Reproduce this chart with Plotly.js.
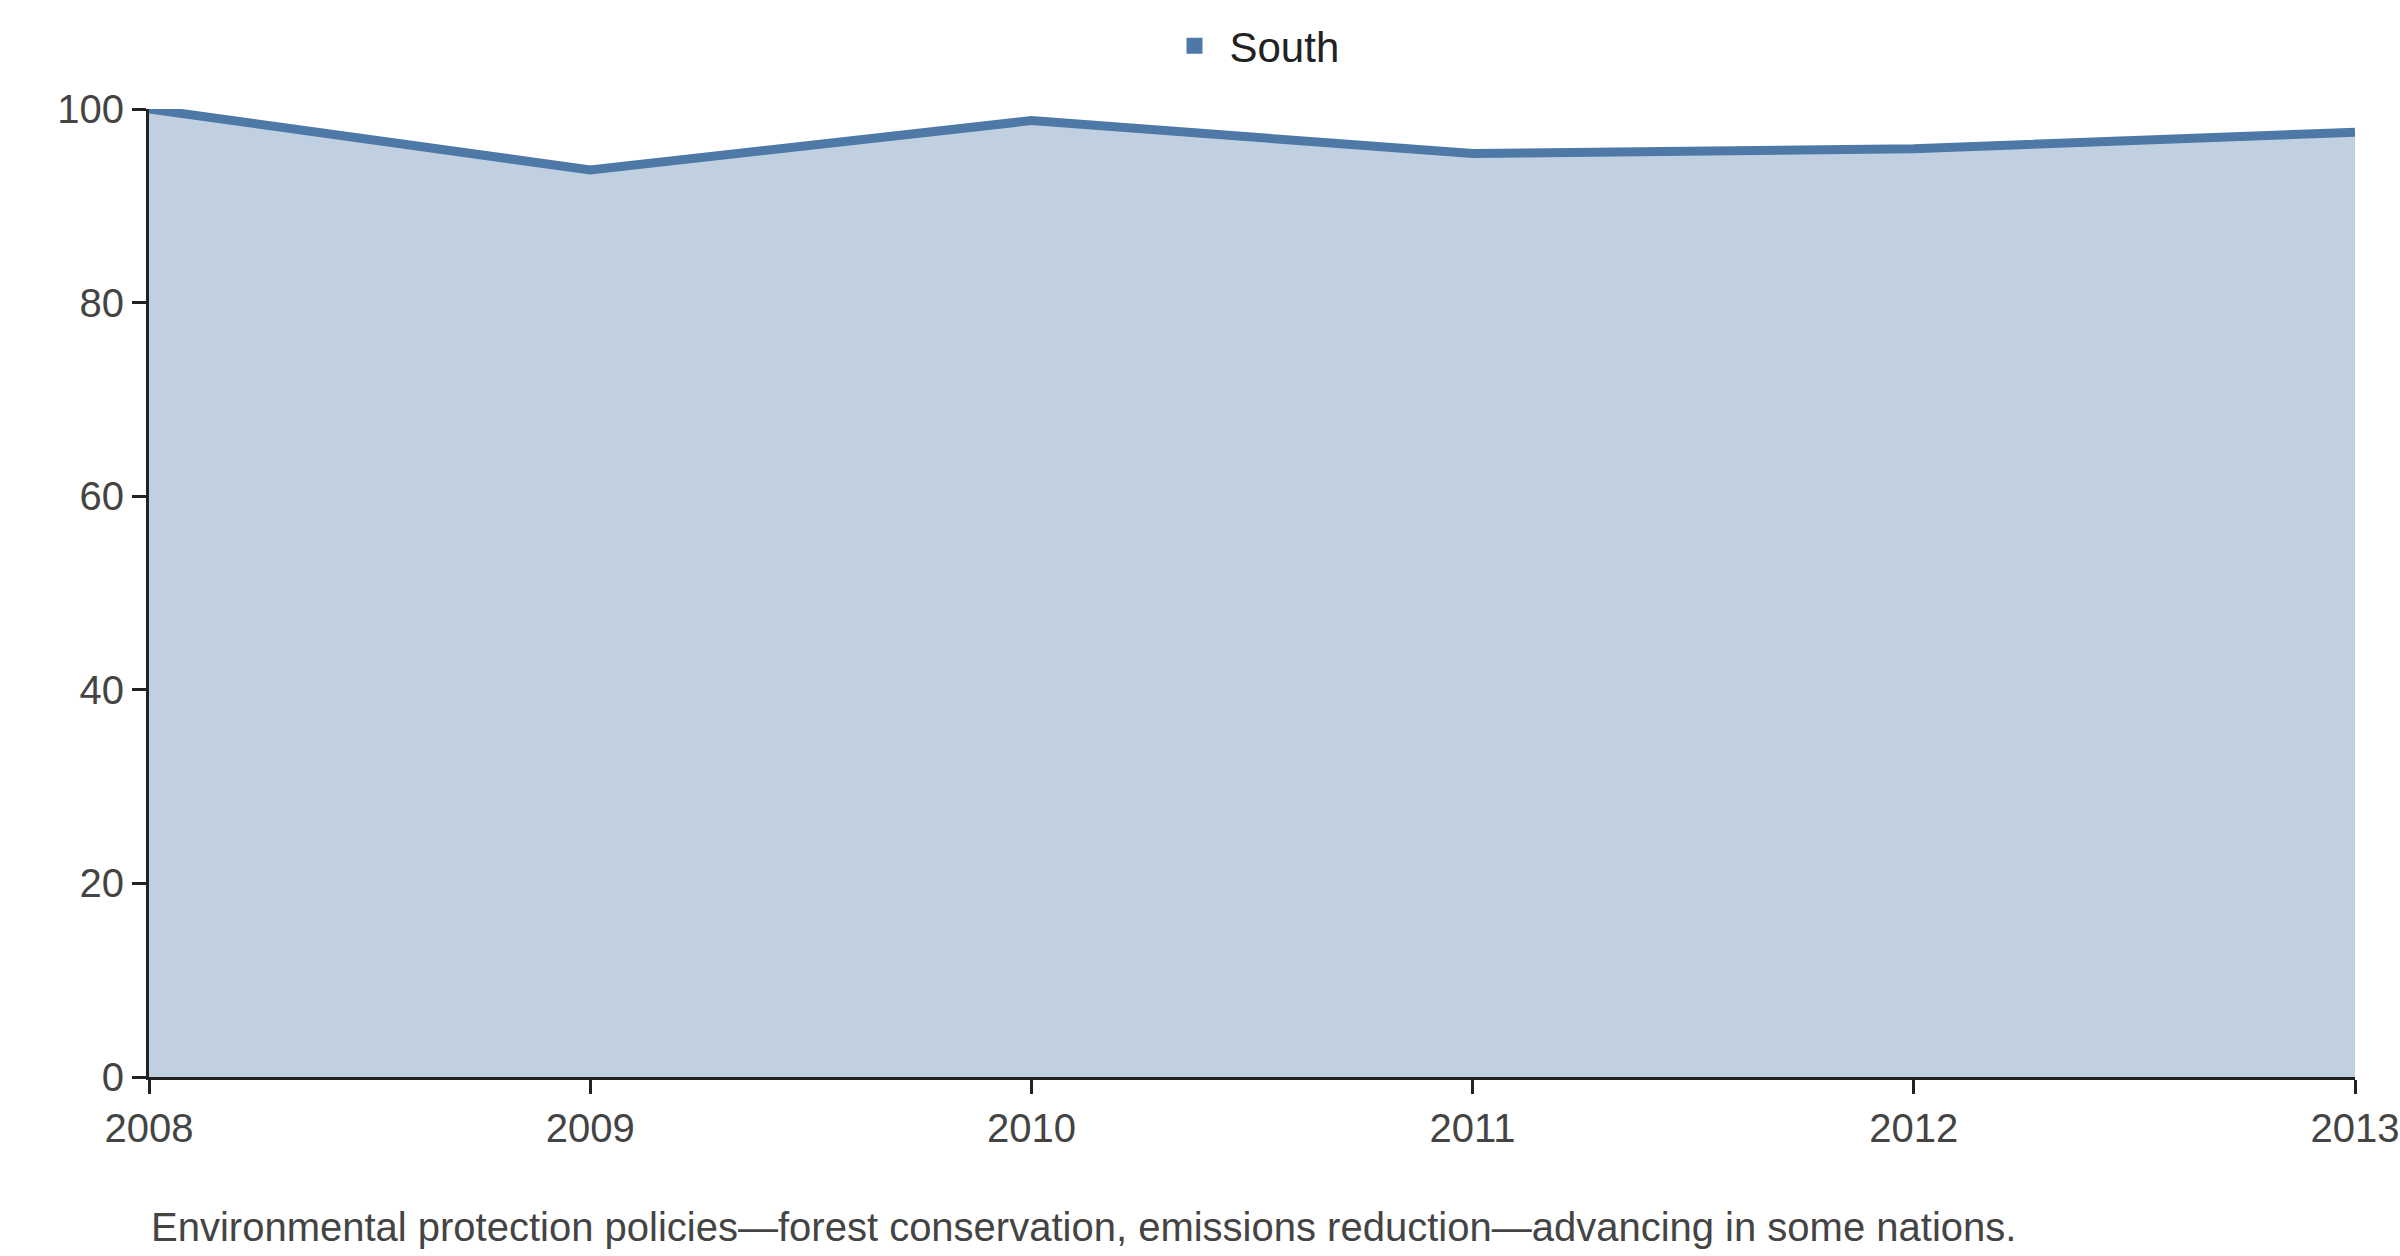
<!DOCTYPE html>
<html>
<head>
<meta charset="utf-8">
<script src="https://cdn.plot.ly/plotly-3.0.1.min.js"></script>
<style>html,body{margin:0;padding:0;background:#fff;}#chart{width:2400px;height:1256px;}</style>
</head>
<body>
<div id="chart"></div>
<script>
const years = ["2008", "2009", "2010", "2011", "2012", "2013"];
const south = [100, 93.7, 98.8, 95.4, 95.9, 97.6];
const yTicks = [0, 20, 40, 60, 80, 100];
const caption = "Environmental protection policies\u2014forest conservation, emissions reduction\u2014advancing in some nations.";

const trace = {
    x: years.map(Number),
    y: south,
    name: "South",
    mode: "lines",
    fill: "tozeroy",
    fillcolor: "rgba(78,121,167,0.35)",
    line: { color: "#4e79a7", width: 9 },
    cliponaxis: false,
    showlegend: false,
};

// legend swatch as a square marker
const legendKey = {
    x: [null], y: [null],
    name: "South",
    mode: "markers",
    marker: { symbol: "square", size: 32, color: "#4e79a7" },
    showlegend: true,
};

const layout = {
    width: 2400,
    height: 1256,
    paper_bgcolor: "#fff",
    plot_bgcolor: "#fff",
    font: { family: "Liberation Sans, Arial, sans-serif", size: 40, color: "#444" },
    margin: { l: 149, r: 45, t: 100, b: 179 },
    showlegend: true,
    legend: {
        orientation: "h", x: 0.5, xanchor: "center", y: 1.03, yanchor: "bottom",
        font: { size: 42, color: "#222" }, itemwidth: 60,
    },
    xaxis: {
        range: [2008, 2013],
        tickvals: years.map(Number),
        ticktext: years,
        showgrid: false, zeroline: false,
        showline: true, linecolor: "#222", linewidth: 3,
        ticks: "outside", ticklen: 14, tickwidth: 3, tickcolor: "#222",
        ticklabeloverflow: "allow",
    },
    yaxis: {
        range: [0, 100],
        tickvals: yTicks,
        showgrid: false, zeroline: false,
        showline: true, linecolor: "#222", linewidth: 3,
        ticks: "outside", ticklen: 14, tickwidth: 3, tickcolor: "#222",
    },
    annotations: [{
        text: caption, xref: "paper", yref: "paper", x: 0, y: -0.155,
        xanchor: "left", yanchor: "middle", showarrow: false,
        font: { size: 40, color: "#444" },
    }],
};

Plotly.newPlot("chart", [trace, legendKey], layout, { displayModeBar: false });
</script>
</body>
</html>
